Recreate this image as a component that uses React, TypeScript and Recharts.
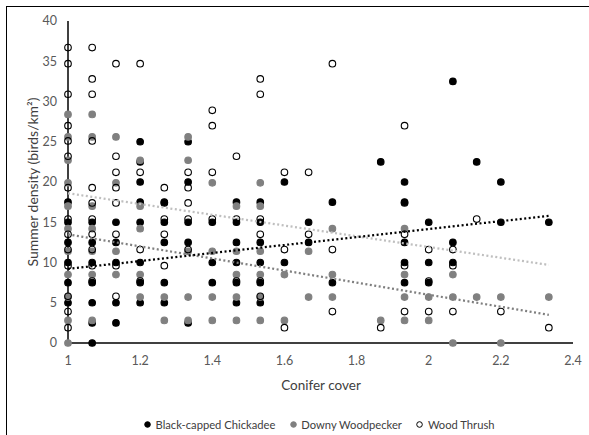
import React from 'react'
import { ScatterChart, Scatter, XAxis, YAxis } from 'recharts'

// conifer cover levels on the x axis
const coverTicks = [1, 1.2, 1.4, 1.6, 1.8, 2, 2.2, 2.4]
const densityTicks = [0, 5, 10, 15, 20, 25, 30, 35, 40]

// [conifer cover, densities seen at that cover]
const chickadee: [number, number[]][] = [
  [1, [17.5, 15, 12.5, 10, 7.5, 5]],
  [1.067, [15, 12.5, 10, 7.5, 5, 2.5, 0]],
  [1.133, [15, 12.5, 10, 5, 2.5]],
  [1.2, [25, 22.5, 20, 17.5, 15, 10, 7.5, 5]],
  [1.267, [17.5, 15, 12.5, 7.5, 5]],
  [1.333, [25, 20, 15, 12.5, 2.5]],
  [1.4, [15, 10, 7.5]],
  [1.467, [17.5, 15, 12.5, 10, 7.5, 5]],
  [1.533, [17.5, 15, 12.5, 10, 7.5, 5]],
  [1.6, [20, 10]],
  [1.667, [15, 12.5]],
  [1.733, [17.5, 7.5]],
  [1.867, [22.5]],
  [1.933, [20, 17.5, 12.5, 10, 7.5]],
  [2, [15, 10, 7.5]],
  [2.067, [32.5, 12.5, 10]],
  [2.133, [22.5]],
  [2.2, [20, 15]],
  [2.333, [15]],
]

const woodpecker: [number, number[]][] = [
  [1, [28.4, 25.6, 22.7, 19.9, 17, 14.2, 11.4, 8.5, 5.7, 2.8, 0]],
  [1.067, [28.4, 25.6, 17, 14.2, 11.4, 8.5, 2.8]],
  [1.133, [25.6, 19.9, 11.4, 8.5]],
  [1.2, [22.7, 17, 14.2, 8.5, 5.7]],
  [1.267, [5.7, 2.8]],
  [1.333, [25.6, 22.7, 11.4, 5.7, 2.8]],
  [1.4, [19.9, 11.4, 5.7, 2.8]],
  [1.467, [17, 11.4, 8.5, 5.7, 2.8]],
  [1.533, [19.9, 17, 11.4, 8.5, 5.7, 2.8]],
  [1.6, [8.5, 2.8]],
  [1.667, [11.4, 5.7]],
  [1.733, [14.2, 8.5, 5.7]],
  [1.867, [2.8]],
  [1.933, [14.2, 8.5, 5.7, 2.8]],
  [2, [5.7, 2.8]],
  [2.067, [8.5, 5.7, 0]],
  [2.133, [5.7]],
  [2.2, [5.7, 0]],
  [2.333, [5.7]],
]

const thrush: [number, number[]][] = [
  [1, [36.7, 34.7, 30.9, 27, 25.1, 23.2, 19.3, 15.4, 13.5, 11.6, 9.6, 5.8, 3.9, 1.9]],
  [1.067, [36.7, 32.8, 30.9, 25.1, 19.3, 17.4, 15.4, 13.5, 11.6, 9.6, 7.7]],
  [1.133, [34.7, 23.2, 21.2, 19.3, 17.4, 13.5, 9.6, 5.8]],
  [1.2, [34.7, 21.2, 11.6, 7.7]],
  [1.267, [19.3, 17.4, 15.4, 13.5, 9.6]],
  [1.333, [21.2, 19.3, 17.4, 15.4, 11.6]],
  [1.4, [28.9, 27, 21.2, 15.4]],
  [1.467, [23.2, 15.4, 7.7]],
  [1.533, [32.8, 30.9, 15.4, 13.5, 7.7, 5.8]],
  [1.6, [21.2, 11.6, 1.9]],
  [1.667, [21.2, 13.5]],
  [1.733, [34.7, 11.6, 3.9]],
  [1.867, [1.9]],
  [1.933, [27, 17.4, 13.5, 9.6, 3.9]],
  [2, [11.6, 7.7, 3.9]],
  [2.067, [11.6, 9.6, 3.9]],
  [2.133, [15.4]],
  [2.2, [3.9]],
  [2.333, [1.9]],
]

// linear trendline end points
const chickadeeTrend = [{ x: 1, y: 9.2 }, { x: 2.333, y: 15.8 }]
const woodpeckerTrend = [{ x: 1, y: 13.5 }, { x: 2.333, y: 3.5 }]
const thrushTrend = [{ x: 1, y: 18.6 }, { x: 2.333, y: 9.7 }]

const toPoints = (rows: [number, number[]][]) =>
  rows.flatMap(([x, ys]) => ys.map((y) => ({ x, y })))

const FONT = 'Lato, "Open Sans", sans-serif'
const TICK_STYLE = { fontSize: 12.5, fill: '#595959', fontFamily: FONT }

const dot = (fill: string, stroke: string) => (props: any) => (
  <circle cx={props.cx} cy={props.cy} r={3.3} fill={fill} stroke={stroke} strokeWidth={1.1} />
)
const noDot = () => <g />

const LegendDot = ({ fill, stroke }: { fill: string; stroke: string }) => (
  <svg width={8} height={8} style={{ marginRight: 4 }}>
    <circle cx={4} cy={4} r={2.8} fill={fill} stroke={stroke} strokeWidth={1} />
  </svg>
)

export default function App() {
  return (
    <div style={{ position: 'fixed', left: 0, top: 0, width: 589, height: 435, overflow: 'hidden', background: '#fff' }}>
      <div style={{ position: 'absolute', left: 6, top: 6, width: 600, height: 450, border: '1px solid #000' }} />
      <div style={{ position: 'absolute', left: 0, top: 0 }}>
        <ScatterChart width={589} height={435} margin={{ top: 21, right: 16, bottom: 0, left: 0 }}>
          <XAxis
            type="number"
            dataKey="x"
            domain={[1, 2.4]}
            ticks={coverTicks}
            height={92}
            tickSize={0}
            tickMargin={13}
            tick={TICK_STYLE}
            axisLine={{ stroke: '#000', strokeWidth: 1.5 }}
          />
          <YAxis
            type="number"
            dataKey="y"
            domain={[0, 40]}
            ticks={densityTicks}
            width={68}
            tickSize={0}
            tickMargin={11}
            tick={TICK_STYLE}
            axisLine={{ stroke: '#000', strokeWidth: 1.5 }}
          />
          <Scatter data={toPoints(chickadee)} shape={dot('#000', '#000')} isAnimationActive={false} />
          <Scatter data={toPoints(woodpecker)} shape={dot('#808080', '#808080')} isAnimationActive={false} />
          <Scatter data={toPoints(thrush)} shape={dot('none', '#000')} isAnimationActive={false} />
          <Scatter
            data={thrushTrend}
            shape={noDot}
            line={{ stroke: '#bfbfbf', strokeWidth: 2.25, strokeDasharray: '2 2.5' }}
            isAnimationActive={false}
          />
          <Scatter
            data={woodpeckerTrend}
            shape={noDot}
            line={{ stroke: '#7f7f7f', strokeWidth: 2.25, strokeDasharray: '2 2.5' }}
            isAnimationActive={false}
          />
          <Scatter
            data={chickadeeTrend}
            shape={noDot}
            line={{ stroke: '#000', strokeWidth: 2.25, strokeDasharray: '2 2.5' }}
            isAnimationActive={false}
          />
        </ScatterChart>
      </div>
      <div
        style={{
          position: 'absolute', left: 32, top: 182, transform: 'translate(-50%, -50%) rotate(-90deg)',
          whiteSpace: 'nowrap', fontFamily: FONT, fontSize: 14, color: '#404040',
        }}
      >
        Summer density (birds/km²)
      </div>
      <div
        style={{
          position: 'absolute', left: 321, top: 385, transform: 'translate(-50%, -50%)',
          whiteSpace: 'nowrap', fontFamily: FONT, fontSize: 13.5, color: '#404040',
        }}
      >
        Conifer cover
      </div>
      <div
        style={{
          position: 'absolute', left: 319, top: 424, transform: 'translate(-50%, -50%)',
          display: 'flex', alignItems: 'center', whiteSpace: 'nowrap',
          fontFamily: FONT, fontSize: 11.2, color: '#404040',
        }}
      >
        <LegendDot fill="#000" stroke="#000" />
        <span style={{ marginRight: 14 }}>Black-capped Chickadee</span>
        <LegendDot fill="#808080" stroke="#808080" />
        <span style={{ marginRight: 14 }}>Downy Woodpecker</span>
        <LegendDot fill="none" stroke="#000" />
        <span>Wood Thrush</span>
      </div>
    </div>
  )
}
